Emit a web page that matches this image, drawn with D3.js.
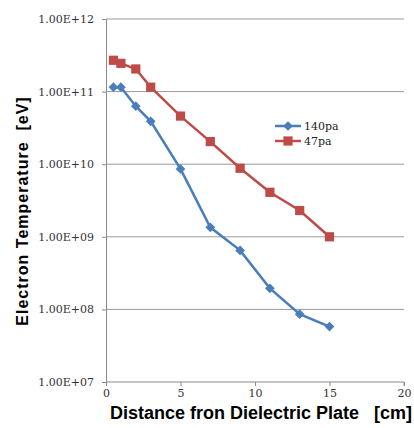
<!DOCTYPE html>
<meta charset="utf-8">
<html>
<style>
  body { margin: 0; background: #fff; }
  .tick text { font-family: "DejaVu Serif", serif; font-size: 11px; fill: #333; }
  .lab { font-family: "Liberation Sans", Arial, sans-serif; font-weight: bold; fill: #000; white-space: pre; }
  .leg { font-family: "DejaVu Serif", serif; font-size: 11px; fill: #222; }
</style>
<script src="https://cdn.jsdelivr.net/npm/d3@7"></script>
<body>
  <svg class="chart"></svg>
</body>
<script>
  var width = 414;
  var height = 428;

  var xs = [0.5, 1, 2, 3, 5, 7, 9, 11, 13, 15];
  var s140 = [1.15e11, 1.15e11, 6.3e10, 3.9e10, 8.6e9, 1.35e9, 6.5e8, 1.95e8, 8.6e7, 5.8e7];
  var s47 = [2.7e11, 2.45e11, 2.05e11, 1.15e11, 4.6e10, 2.05e10, 8.8e9, 4.1e9, 2.3e9, 1.0e9];
  var yTicks = [1e7, 1e8, 1e9, 1e10, 1e11, 1e12];
  var yTickLabels = ["1.00E+07", "1.00E+08", "1.00E+09", "1.00E+10", "1.00E+11", "1.00E+12"];
  var xTicks = [0, 5, 10, 15, 20];

  var series = [
    { name: "140pa", values: s140, color: "#4A7EBB", marker: "diamond" },
    { name: "47pa", values: s47, color: "#BE4B48", marker: "square" }
  ];

  var x = d3.scaleLinear().domain([0, 20]).range([106, 404]);
  var y = d3.scaleLog().domain([1e7, 1e12]).range([382, 19]);

  var svg = d3.select(".chart").attr("width", width).attr("height", height);

  // horizontal grid
  svg.append("g").selectAll("line").data(yTicks.slice(1)).enter().append("line")
    .attr("x1", x(0)).attr("x2", x(20))
    .attr("y1", function(d) { return y(d); }).attr("y2", function(d) { return y(d); })
    .attr("stroke", "#9a9a9a").attr("stroke-width", 1);

  var yAxis = svg.append("g").attr("transform", "translate(" + x(0) + ",0)")
    .call(d3.axisLeft(y).tickValues(yTicks).tickSize(4).tickPadding(8)
      .tickFormat(function(d, i) { return yTickLabels[i]; }));
  var xAxis = svg.append("g").attr("transform", "translate(0," + y(1e7) + ")")
    .call(d3.axisBottom(x).tickValues(xTicks).tickSize(4).tickPadding(3));
  svg.selectAll(".domain").attr("stroke", "#8a8a8a");
  svg.selectAll(".tick line").attr("stroke", "#8a8a8a");
  xAxis.select(".domain").attr("d", "M" + x(0) + ",0H" + x(20) + "V4");

  var line = d3.line()
    .x(function(d, i) { return x(xs[i]); })
    .y(function(d) { return y(d); });

  var diamond = d3.symbol().type(d3.symbolDiamond2).size(60);
  var square = d3.symbol().type(d3.symbolSquare).size(85);

  series.forEach(function(s) {
    svg.append("path").datum(s.values)
      .attr("fill", "none").attr("stroke", s.color).attr("stroke-width", 2.5)
      .attr("d", line);
    svg.append("g").selectAll("path").data(s.values).enter().append("path")
      .attr("transform", function(d, i) { return "translate(" + x(xs[i]) + "," + y(d) + ")"; })
      .attr("d", s.marker === "diamond" ? diamond : square)
      .attr("fill", s.color);
  });

  // legend
  var leg = svg.append("g");
  series.forEach(function(s, i) {
    var ly = 126 + i * 15;
    leg.append("line").attr("x1", 275).attr("x2", 301).attr("y1", ly).attr("y2", ly)
      .attr("stroke", s.color).attr("stroke-width", 2.5);
    leg.append("path").attr("transform", "translate(288," + ly + ")")
      .attr("d", s.marker === "diamond" ? diamond : square).attr("fill", s.color);
    leg.append("text").attr("class", "leg").attr("x", 304).attr("y", ly + 4).text(s.name);
  });

  svg.append("text").attr("class", "lab").attr("x", 110).attr("y", 419)
    .attr("font-size", 18).text("Distance fron Dielectric Plate   [cm]");
  svg.append("text").attr("class", "lab")
    .attr("transform", "translate(28,211) rotate(-90)")
    .attr("text-anchor", "middle").attr("font-size", 16).attr("letter-spacing", 1)
    .text("Electron Temperature  [eV]");
</script>
</html>
